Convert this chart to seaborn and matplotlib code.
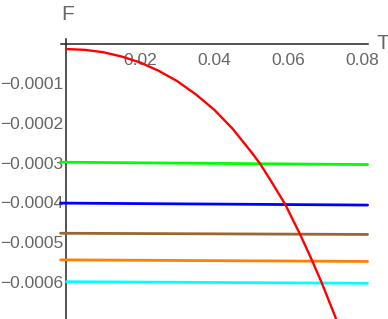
import matplotlib
matplotlib.use("Agg")
import matplotlib.pyplot as plt
from matplotlib.ticker import MultipleLocator, FixedLocator
import seaborn as sns

# ---- data ----
T_red = [0.0, 0.005, 0.010, 0.015, 0.020, 0.025, 0.030, 0.035, 0.040, 0.045,
         0.050, 0.0524, 0.055, 0.0592, 0.0634, 0.0664, 0.0691, 0.0727, 0.0760]
F_red = [-1.4e-5, -1.6e-5, -2.2e-5, -3.3e-5, -4.8e-5, -6.9e-5, -9.5e-5, -1.28e-4, -1.67e-4, -2.15e-4,
         -2.73e-4, -3.03e-4, -3.41e-4, -4.05e-4, -4.84e-4, -5.45e-4, -6.03e-4, -6.87e-4, -7.7e-4]

T_flat = [-0.0016, 0.0815]
F_green = [-2.99e-4, -3.05e-4]
F_blue = [-4.02e-4, -4.07e-4]
F_brown = [-4.78e-4, -4.81e-4]
F_orange = [-5.45e-4, -5.49e-4]
T_cyan = [0.0, 0.0815]
F_cyan = [-6.00e-4, -6.04e-4]

x_ticks = [0.02, 0.04, 0.06, 0.08]
x_tick_labels = ["0.02", "0.04", "0.06", "0.08"]
y_ticks = [-0.0001, -0.0002, -0.0003, -0.0004, -0.0005, -0.0006]
y_tick_labels = ["\u22120.0001", "\u22120.0002", "\u22120.0003", "\u22120.0004", "\u22120.0005", "\u22120.0006"]

sns.set_style("white")
plt.rcParams['font.family'] = ['Liberation Sans', 'DejaVu Sans']

fig = plt.figure(figsize=(3.88, 3.19), dpi=100)
ax = fig.add_axes([0, 0, 1, 1])
ax.set_facecolor("white")

lw = 2.0
sns.lineplot(x=T_flat, y=F_green, color="#00ff00", lw=lw, ax=ax, sort=False, estimator=None, zorder=3)
sns.lineplot(x=T_flat, y=F_blue, color="#0000ff", lw=lw, ax=ax, sort=False, estimator=None, zorder=3)
sns.lineplot(x=T_flat, y=F_brown, color="#996633", lw=lw, ax=ax, sort=False, estimator=None, zorder=3)
sns.lineplot(x=T_flat, y=F_orange, color="#ff8000", lw=lw, ax=ax, sort=False, estimator=None, zorder=3)
sns.lineplot(x=T_cyan, y=F_cyan, color="#00ffff", lw=lw, ax=ax, sort=False, estimator=None, zorder=3)
sns.lineplot(x=T_red, y=F_red, color="#ff0000", lw=1.7, ax=ax, sort=False, estimator=None, zorder=4)

ax.set_xlim(-0.0180, 0.08703)
ax.set_ylim(-6.94e-4, 1.096e-4)

for s in ["top", "right"]:
    ax.spines[s].set_visible(False)
ax.spines["bottom"].set_position(("data", 0))
ax.spines["left"].set_position(("data", 0))
ax.spines["bottom"].set_bounds(-0.0016, 0.0815)
ax.spines["left"].set_bounds(-6.94e-4, 1.2e-5)
for s in ["bottom", "left"]:
    ax.spines[s].set_color("#222222")
    ax.spines[s].set_linewidth(1.1)
    ax.spines[s].set_zorder(1)
ax.xaxis.set_zorder(1)
ax.yaxis.set_zorder(1)

ax.xaxis.set_major_locator(FixedLocator(x_ticks))
ax.set_xticklabels(x_tick_labels)
ax.xaxis.set_minor_locator(MultipleLocator(0.005))
ax.yaxis.set_major_locator(FixedLocator(y_ticks))
ax.set_yticklabels(y_tick_labels)
ax.yaxis.set_minor_locator(MultipleLocator(0.00002))

gray = "#666666"
ax.tick_params(axis="both", which="major", direction="in", length=3.0, width=0.8,
               color="#555555", labelcolor=gray, labelsize=12.5)
ax.tick_params(axis="both", which="minor", direction="in", length=1.6, width=0.7,
               color="#555555")
ax.tick_params(axis="x", which="major", pad=7)
ax.tick_params(axis="y", which="major", pad=2.5)

ax.set_xlabel("T", color=gray, fontsize=15)
ax.xaxis.set_label_coords(0.0857, 0.0, transform=ax.transData)
ax.xaxis.label.set_va("center")
ax.xaxis.label.set_ha("center")
ax.set_ylabel("F", color=gray, fontsize=15, rotation=0)
ax.yaxis.set_label_coords(0.0002, 7.2e-5, transform=ax.transData)
ax.yaxis.label.set_va("center")
ax.yaxis.label.set_ha("center")

fig.savefig("out.png", dpi=100, facecolor="white")
